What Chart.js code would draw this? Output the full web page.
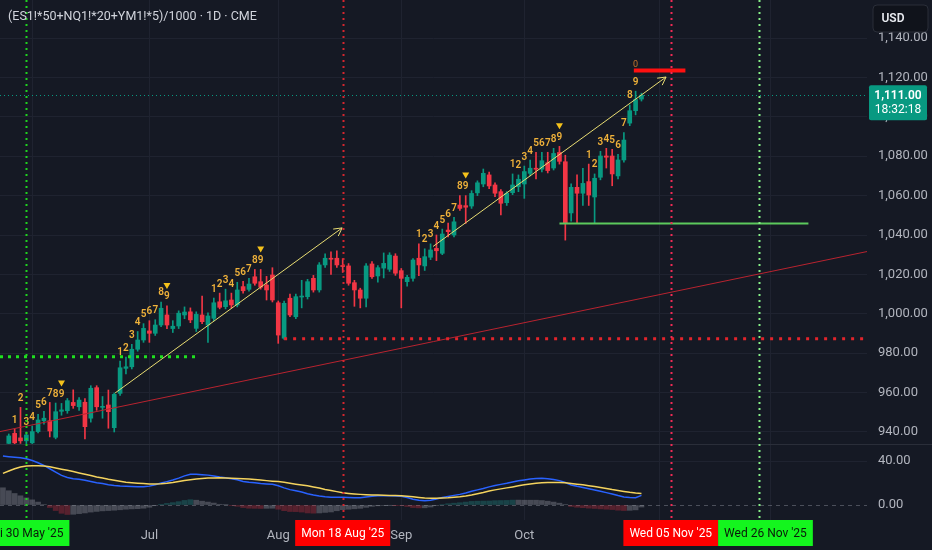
<!DOCTYPE html>
<html>
<head>
<meta charset="utf-8">
<title>ES/NQ/YM composite 1D</title>
<script src="https://cdn.jsdelivr.net/npm/chart.js@4.4.1/dist/chart.umd.min.js"></script>
<style>
  html, body { margin: 0; padding: 0; background: #151924; }
  #wrap { width: 932px; height: 550px; position: relative; }
</style>
</head>
<body>
<div id="wrap"><canvas id="chart"></canvas></div>
<script>
// ---- calendar (CME trading days, US holidays skipped) ----
const holidays = ['2025-05-26', '2025-06-19', '2025-07-04', '2025-09-01', '2025-11-27', '2025-12-25'];
const monthNames = ['Jan', 'Feb', 'Mar', 'Apr', 'May', 'Jun', 'Jul', 'Aug', 'Sep', 'Oct', 'Nov', 'Dec'];

function buildDays(first, count) {
  const out = [];
  const d = new Date(first + 'T00:00:00Z');
  while (out.length < count) {
    const iso = d.toISOString().slice(0, 10);
    const wd = d.getUTCDay();
    if (wd !== 0 && wd !== 6 && !holidays.includes(iso)) out.push(iso);
    d.setUTCDate(d.getUTCDate() + 1);
  }
  return out;
}
const days = buildDays('2025-05-23', 148);

// ---- daily candles, 23 May .. 29 Oct 2025 ----
const opens = [
  null, 934.2, 939.3, 937.0, 935.5, 934.5, 940.2, 945.7, 945.7, 937.3,
  950.5, 950.8, 955.0, 952.8, 955.1, 947.0, 962.5, 952.5, 953.7, 942.2,
  959.6, 972.3, 973.1, 982.0, 986.7, 991.3, 990.1, 994.3, 999.4, 992.5,
  993.8, 999.4, 1001.0, 992.6, 999.4, 994.3, 997.7, 1006.1, 1003.6, 1007.0,
  1004.5, 1013.8, 1012.4, 1018.8, 1016.3, 1014.6, 1019.7, 1005.6, 987.6, 1007.9,
  998.5, 1008.5, 1008.7, 1018.0, 1012.1, 1024.8, 1028.2, 1028.2, 1024.5, 1024.3,
  1015.8, 1012.1, 1007.9, 1025.3, 1019.2, 1023.2, 1022.6, 1029.3, 1021.9, 1016.3,
  1018.0, 1028.2, 1024.3, 1028.7, 1033.2, 1030.7, 1042.5, 1040.0, 1055.2, 1054.9,
  1054.7, 1061.4, 1065.9, 1070.5, 1065.4, 1062.0, 1056.4, 1061.5, 1064.5, 1065.9,
  1071.3, 1073.9, 1073.4, 1076.7, 1074.0, 1081.9, 1077.2, 1051.2, 1064.2, 1061.2,
  1067.1, 1059.3, 1069.3, 1080.1, 1080.1, 1070.0, 1078.1, 1096.8, 1103.1, 1109.0
];
const highs = [
  null, 939.0, 941.5, 952.5, 940.0, 943.0, 949.0, 950.5, 955.0, 954.7,
  954.5, 957.0, 961.4, 957.5, 957.0, 963.5, 963.5, 958.0, 961.3, 959.8,
  976.0, 978.0, 984.5, 991.0, 995.0, 996.5, 997.0, 1006.0, 1004.0, 996.5,
  1001.5, 1003.5, 1003.0, 1001.0, 1009.0, 1000.5, 1008.0, 1010.5, 1012.5, 1010.5,
  1016.0, 1016.5, 1018.0, 1022.5, 1022.5, 1019.0, 1023.4, 1006.5, 1006.5, 1010.0,
  1010.0, 1017.0, 1017.5, 1019.5, 1026.0, 1030.5, 1031.5, 1032.0, 1028.0, 1025.5,
  1017.0, 1013.0, 1025.5, 1026.5, 1024.5, 1030.9, 1031.0, 1030.5, 1023.0, 1019.5,
  1028.0, 1035.5, 1033.0, 1035.5, 1040.0, 1043.0, 1046.0, 1049.0, 1060.0, 1060.0,
  1062.5, 1067.5, 1073.5, 1072.0, 1066.5, 1063.0, 1062.0, 1071.0, 1070.5, 1075.0,
  1078.0, 1082.0, 1082.0, 1082.0, 1084.0, 1085.0, 1080.5, 1066.0, 1070.5, 1073.9,
  1076.0, 1071.0, 1082.5, 1084.0, 1083.5, 1081.0, 1092.0, 1106.0, 1113.0, 1112.0
];
const lows = [
  null, 934.1, 934.0, 934.2, 934.1, 934.1, 939.5, 944.0, 937.5, 936.5,
  948.5, 949.5, 952.0, 951.0, 936.5, 945.0, 951.0, 947.0, 941.9, 940.0,
  958.5, 969.5, 972.0, 981.0, 985.5, 985.5, 989.0, 993.5, 992.5, 990.5,
  992.5, 997.5, 995.5, 991.0, 995.0, 985.5, 996.5, 1002.5, 1002.5, 1003.0,
  1003.5, 1010.5, 1011.5, 1014.5, 1012.5, 1007.0, 1006.0, 985.0, 987.0, 998.5,
  997.5, 1003.0, 1007.5, 1011.0, 1011.0, 1023.5, 1020.0, 1023.5, 1021.0, 1014.5,
  1003.8, 1003.0, 1003.5, 1018.0, 1016.0, 1018.2, 1021.5, 1019.5, 1003.0, 1014.0,
  1016.5, 1019.3, 1022.0, 1027.5, 1027.0, 1030.0, 1039.0, 1039.0, 1052.5, 1045.9,
  1053.5, 1060.0, 1064.5, 1063.5, 1059.5, 1050.2, 1055.0, 1060.5, 1062.0, 1058.6,
  1070.0, 1068.5, 1072.0, 1071.5, 1073.0, 1076.0, 1037.4, 1047.0, 1045.9, 1055.0,
  1055.0, 1046.2, 1068.0, 1074.0, 1065.0, 1068.5, 1077.0, 1095.5, 1101.0, 1108.0
];
const closes = [
  null, 938.0, 934.5, 935.5, 938.5, 940.2, 946.1, 947.0, 940.5, 950.3,
  951.2, 955.9, 953.4, 956.2, 942.7, 962.2, 952.8, 953.0, 950.3, 959.1,
  972.6, 973.1, 982.0, 986.7, 992.6, 990.1, 994.3, 1002.8, 994.3, 993.7,
  1000.3, 1000.9, 996.9, 999.7, 996.0, 998.9, 1005.6, 1003.3, 1006.6, 1004.5,
  1012.1, 1011.7, 1015.1, 1015.5, 1013.5, 1012.1, 1007.0, 989.2, 1005.3, 999.4,
  1008.7, 1008.9, 1016.3, 1012.1, 1024.8, 1028.2, 1027.7, 1024.8, 1024.0, 1015.5,
  1012.1, 1007.9, 1024.3, 1018.8, 1023.4, 1025.6, 1029.8, 1020.6, 1018.0, 1018.5,
  1027.3, 1024.8, 1029.0, 1032.4, 1032.0, 1040.5, 1041.7, 1046.7, 1053.5, 1054.1,
  1061.1, 1066.5, 1071.3, 1064.9, 1061.2, 1056.1, 1061.2, 1065.4, 1068.3, 1072.2,
  1073.9, 1073.4, 1077.7, 1072.7, 1081.4, 1077.4, 1046.0, 1064.2, 1061.2, 1066.2,
  1060.3, 1068.8, 1080.1, 1079.5, 1071.0, 1078.1, 1088.2, 1103.1, 1108.8, 1111.0
];

// ---- MACD pane ----
const macdLine = [
  44.5, 44, 43.5, 43, 42, 40.5, 38.5, 36, 33, 30,
  27, 25, 24, 23.5, 22.5, 21.5, 20.3, 19.5, 18.5, 17.8,
  17.3, 17, 16.8, 16.6, 16.6, 17.2, 18.5, 20, 21.3, 22.7,
  24.5, 26.5, 27.9, 28, 27.6, 27.2, 26.5, 25.5, 24.9, 24,
  23, 21.5, 20.7, 20.2, 19.6, 19.2, 18.8, 17.5, 15.6, 14,
  13, 11.8, 10.3, 9.1, 8.2, 7.5, 7, 7, 7, 6.8,
  6.7, 6.7, 7.3, 8, 8.4, 8.5, 8.5, 8.3, 8, 6.8,
  5.2, 4.3, 3.9, 4.3, 5.5, 6.8, 7.8, 8.8, 9.7, 11,
  12.5, 13.8, 15, 16.5, 17.8, 18.8, 19.8, 21, 22, 22.8,
  23.6, 24.2, 24.3, 24, 23.3, 22.2, 20.5, 18.3, 17, 16,
  14.8, 13.7, 12.5, 11.3, 10, 8.6, 7.4, 6.8, 6.6, 8.8
];
const signalLine = [
  28.8, 31, 33, 34.6, 35.5, 35.8, 35.8, 35.6, 34.8, 33.7,
  32.6, 31.6, 30.4, 29.2, 28, 26.8, 25.5, 24.5, 23.4, 22.5,
  21.6, 20.8, 20.3, 19.9, 19.5, 19.2, 19.1, 19.3, 19.8, 20.5,
  21.4, 22.3, 23, 23.6, 24.1, 24.5, 24.7, 24.8, 24.6, 24.4,
  24.1, 23.8, 23.6, 23.2, 22.7, 22.2, 21.7, 21.3, 20.7, 19.9,
  19, 18.2, 17.5, 16.5, 15.4, 14.2, 13.3, 12.2, 11.2, 10.6,
  10.1, 9.7, 9.4, 9.2, 9.1, 8.9, 8.7, 8.6, 8.5, 8.1,
  7.5, 6.9, 6.4, 6.1, 6.1, 6.3, 6.6, 7.1, 7.6, 8.3,
  9.2, 10.3, 11.4, 12.8, 13.8, 14.7, 15.6, 16.5, 17.5, 18.4,
  19.2, 19.8, 20.2, 20.5, 20.6, 20.5, 20.2, 19.6, 19, 18.4,
  17.6, 16.8, 16, 15.1, 14.1, 13.3, 12.4, 11.6, 11, 10.6
];
const histogram = [
  15.7, 13, 10.5, 8.4, 6.5, 4.7, 2.7, 0.4, -2.2, -5,
  -7.5, -8.6, -8.4, -7.8, -7.2, -6.4, -5.8, -5.3, -5, -4.7,
  -4.3, -3.8, -3.5, -3.3, -2.9, -2, -0.6, 0.7, 1.5, 2.2,
  3.1, 4.2, 4.9, 4.4, 3.5, 2.7, 1.8, 0.7, 0.3, -0.4,
  -1.1, -2.3, -2.9, -3, -3.1, -3, -2.9, -3.8, -5.1, -5.9,
  -6, -6.4, -7.2, -7.4, -7.2, -6.7, -6.3, -5.2, -4.2, -3.8,
  -3.4, -3, -2.1, -1.2, -0.7, -0.4, -0.2, -0.3, -0.5, -1.3,
  -2.3, -2.6, -2.5, -1.8, -0.6, 0.5, 1.2, 1.7, 2.1, 2.7,
  3.3, 3.5, 3.6, 3.7, 4, 4.1, 4.2, 4.5, 4.5, 4.4,
  4.4, 4.4, 4.1, 3.5, 2.7, 1.7, 0.3, -1.3, -2, -2.4,
  -2.8, -3.1, -3.5, -3.8, -4.1, -4.7, -5, -4.8, -4.4, -1.8
];

// ---- annotations ----
const markedDates = ['2025-05-30', '2025-08-18', '2025-11-05', '2025-11-26'];
const markedText = ["Fri 30 May '25", "Mon 18 Aug '25", "Wed 05 Nov '25", "Wed 26 Nov '25"];
const markedKind = ['green', 'red', 'red', 'green'];
const tdSetupStart = ['2025-05-28', '2025-06-24', '2025-07-17', '2025-09-05', '2025-09-29', '2025-10-16'];
const lastPrice = 1111.0;
const countdown = '18:32:18';
const greenZone = 978.2;
const redZone = 987.3;
const supportLevel = 1045.9;
const targetLevel = 1123.5;

const UP = '#089981';
const DOWN = '#f23645';
const BG = '#151924';
const GRID = '#1f2330';
const TEXT = '#b2b5be';
const FONT = 'Roboto, "Noto Sans", sans-serif';

const candleColors = closes.map((c, k) => (c == null || c >= opens[k]) ? UP : DOWN);
const histColors = histogram.map((v, k) => {
  const prev = k > 0 ? histogram[k - 1] : v;
  if (v >= 0) return v > prev ? 'rgba(38,166,154,0.30)' : 'rgba(178,181,190,0.32)';
  return v < prev ? 'rgba(242,54,69,0.30)' : 'rgba(178,181,190,0.32)';
});

function fmt2(v) {
  return v.toLocaleString('en-US', { minimumFractionDigits: 2, maximumFractionDigits: 2 });
}

function monthLabel(i) {
  if (i === 0) return null;
  const d = days[i], prev = days[i - 1];
  if (d.slice(5, 7) !== prev.slice(5, 7)) return monthNames[+d.slice(5, 7) - 1];
  return null;
}

function noPad(s) { s.paddingTop = 0; s.paddingBottom = 0; s.paddingLeft = 0; s.paddingRight = 0; }

function dotted(ctx, x1, y1, x2, y2, color, width, dash) {
  ctx.save();
  ctx.strokeStyle = color;
  ctx.lineWidth = width;
  ctx.setLineDash(dash || []);
  ctx.beginPath();
  ctx.moveTo(x1, y1);
  ctx.lineTo(x2, y2);
  ctx.stroke();
  ctx.restore();
}

function arrow(ctx, x1, y1, x2, y2, color) {
  dotted(ctx, x1, y1, x2, y2, color, 1);
  const ang = Math.atan2(y2 - y1, x2 - x1);
  const len = 9;
  ctx.save();
  ctx.strokeStyle = color;
  ctx.lineWidth = 1;
  ctx.beginPath();
  ctx.moveTo(x2 - len * Math.cos(ang - 0.5), y2 - len * Math.sin(ang - 0.5));
  ctx.lineTo(x2, y2);
  ctx.lineTo(x2 - len * Math.cos(ang + 0.5), y2 - len * Math.sin(ang + 0.5));
  ctx.stroke();
  ctx.restore();
}

const overlay = {
  id: 'overlay',
  beforeDraw(chart) {
    const ctx = chart.ctx;
    ctx.save();
    ctx.fillStyle = BG;
    ctx.fillRect(0, 0, chart.width, chart.height);
    ctx.restore();
  },
  beforeDatasetsDraw(chart) {
    const { ctx, chartArea: a, scales: { y, m } } = chart;
    // pane separator and MACD zero line
    dotted(ctx, 0, y.bottom + 0.5, chart.width, y.bottom + 0.5, '#2a2e39', 1);
    const z = Math.round(m.getPixelForValue(0)) + 0.5;
    dotted(ctx, a.left, z, a.right, z, 'rgba(120,123,134,0.55)', 1, [4, 4]);
  },
  afterDatasetsDraw(chart) {
    const { ctx, chartArea: a, scales: { x, y } } = chart;
    const X = (date, off = 0) => x.getPixelForValue(days.indexOf(date) + off);
    const Y = p => y.getPixelForValue(p);

    // current price line
    const yp = Math.round(Y(lastPrice)) + 0.5;
    dotted(ctx, a.left, yp, a.right, yp, UP, 1, [1, 3]);

    // trend line and arrows
    dotted(ctx, a.left, Y(940.2), a.right, Y(1031.6), '#b8232f', 1);
    arrow(ctx, X('2025-06-23', 0.15), Y(959.8), X('2025-08-18', -0.1), Y(1043.6), '#e8dc72');
    arrow(ctx, X('2025-09-09', 0.43), Y(1034.2), X('2025-11-04', 0.2), Y(1120.2), '#e8dc72');

    // horizontal levels
    dotted(ctx, a.left, Y(greenZone), X('2025-07-14', -0.2), Y(greenZone), '#1fe01f', 3, [3, 5]);
    dotted(ctx, X('2025-08-04'), Y(redZone), a.right, Y(redZone), '#e3242b', 3, [3, 6]);
    dotted(ctx, X('2025-10-09'), Y(supportLevel), X('2025-12-09', 0.5), Y(supportLevel), '#5cc95c', 2);
    dotted(ctx, X('2025-10-28', -0.3), Y(targetLevel), X('2025-11-07', 0.5), Y(targetLevel), '#ff1010', 4);

    // TD sequential counts
    ctx.save();
    ctx.font = '600 10px ' + FONT;
    ctx.textAlign = 'center';
    ctx.textBaseline = 'middle';
    tdSetupStart.forEach((start, s) => {
      const i0 = days.indexOf(start);
      for (let k = 0; k < 9; k++) {
        const i = i0 + k;
        const px = x.getPixelForValue(i);
        const py = Y(highs[i]) - 9;
        ctx.fillStyle = '#f0b23a';
        ctx.fillText(String(k + 1), px, py);
        if (k === 8 && s < tdSetupStart.length - 1) {
          ctx.fillStyle = '#f5c21b';
          ctx.beginPath();
          ctx.moveTo(px - 3.5, py - 14);
          ctx.lineTo(px + 3.5, py - 14);
          ctx.lineTo(px, py - 8);
          ctx.closePath();
          ctx.fill();
        } else if (k === 8) {
          ctx.fillStyle = '#c9772b';
          ctx.font = '9px ' + FONT;
          ctx.fillText('0', px, py - 17);
        }
      }
    });
    ctx.restore();

    // vertical date markers
    const vColors = ['#1fd41f', '#d4262e', '#ef2a55', '#86f086'];
    markedDates.forEach((d, k) => {
      const vx = Math.round(X(d)) + 0.5;
      dotted(ctx, vx, a.top, vx, a.bottom, vColors[k], 2, [2, 4]);
    });
  },
  afterDraw(chart) {
    const { ctx, chartArea: a, scales: { x, y } } = chart;
    ctx.save();

    // title
    ctx.font = '12.5px ' + FONT;
    ctx.fillStyle = '#d1d4dc';
    ctx.textBaseline = 'middle';
    ctx.textAlign = 'left';
    ctx.fillText('(ES1!*50+NQ1!*20+YM1!*5)/1000 · 1D · CME', 8, 17);

    // date boxes on the time axis
    ctx.font = '12px ' + FONT;
    ctx.textAlign = 'center';
    let prevRight = -Infinity;
    markedDates.forEach((d, k) => {
      const cx = x.getPixelForValue(days.indexOf(d));
      const w = ctx.measureText(markedText[k]).width + 12;
      let left = cx - w / 2;
      if (left < prevRight) left = prevRight;
      ctx.fillStyle = markedKind[k] === 'green' ? '#14f51e' : '#ff0000';
      ctx.fillRect(left, a.bottom, w, 26);
      ctx.fillStyle = markedKind[k] === 'green' ? '#0b1a0b' : '#ffffff';
      ctx.fillText(markedText[k], left + w / 2, a.bottom + 14);
      prevRight = left + w;
    });

    // last price box
    const yp = y.getPixelForValue(lastPrice);
    ctx.fillStyle = UP;
    ctx.beginPath();
    ctx.roundRect(a.right + 2, yp - 10, 58, 35, 2);
    ctx.fill();
    ctx.fillStyle = '#ffffff';
    ctx.font = '600 12px ' + FONT;
    ctx.fillText(fmt2(lastPrice), a.right + 31, yp + 0.5);
    ctx.font = '12px ' + FONT;
    ctx.fillText(countdown, a.right + 31, yp + 14.5);

    // currency button
    ctx.fillStyle = '#10131b';
    ctx.strokeStyle = '#2a2e39';
    ctx.beginPath();
    ctx.roundRect(a.right + 6, 5, 55, 27, 4);
    ctx.fill();
    ctx.stroke();
    ctx.fillStyle = '#e8eaf0';
    ctx.font = '600 12px ' + FONT;
    ctx.fillText('USD', a.right + 26, 18.5);
    ctx.restore();
  }
};

Chart.defaults.font.family = FONT;
Chart.defaults.font.size = 12;
Chart.defaults.color = TEXT;

const ctx = document.getElementById('chart').getContext('2d');
new Chart(ctx, {
  type: 'bar',
  data: {
    labels: days,
    datasets: [
      {
        label: 'wick',
        data: lows.map((l, k) => l == null ? null : [l, highs[k]]),
        backgroundColor: candleColors,
        barThickness: 1,
        grouped: false,
        yAxisID: 'y',
        order: 4
      },
      {
        label: 'body',
        data: opens.map((o, k) => o == null ? null : [o, closes[k]]),
        backgroundColor: candleColors,
        barThickness: 4,
        minBarLength: 1,
        grouped: false,
        yAxisID: 'y',
        order: 3
      },
      {
        label: 'Histogram',
        data: histogram,
        backgroundColor: histColors,
        barThickness: 5,
        grouped: false,
        yAxisID: 'm',
        order: 5
      },
      {
        type: 'line',
        label: 'MACD',
        data: macdLine,
        borderColor: '#2962ff',
        borderWidth: 1.5,
        pointRadius: 0,
        yAxisID: 'm',
        order: 2
      },
      {
        type: 'line',
        label: 'Signal',
        data: signalLine,
        borderColor: '#f4d35e',
        borderWidth: 1.5,
        pointRadius: 0,
        yAxisID: 'm',
        order: 1
      }
    ]
  },
  options: {
    responsive: true,
    maintainAspectRatio: false,
    animation: false,
    events: [],
    layout: { padding: 0 },
    plugins: { legend: { display: false }, tooltip: { enabled: false } },
    scales: {
      x: {
        type: 'category',
        offset: true,
        grid: { color: GRID, offset: false, drawTicks: false },
        border: { display: false },
        ticks: {
          autoSkip: false, maxRotation: 0, padding: 8, color: TEXT,
          font: { size: 13 },
          callback: (v, i) => monthLabel(i)
        },
        afterFit: s => { s.height = 30; noPad(s); }
      },
      y: {
        position: 'right',
        stack: 'panes',
        stackWeight: 444,
        min: 933.9,
        max: 1159.3,
        grid: { color: GRID, drawTicks: false },
        border: { display: false },
        ticks: { stepSize: 20, includeBounds: false, padding: 11, color: TEXT, font: { size: 13 }, callback: v => fmt2(v) },
        afterFit: s => { s.width = 65; noPad(s); }
      },
      m: {
        position: 'right',
        stack: 'panes',
        stackWeight: 76,
        min: -13.6,
        max: 55.5,
        grid: { color: c => (c.tick && c.tick.value === 0) ? 'rgba(0,0,0,0)' : GRID, drawTicks: false },
        border: { display: false },
        ticks: { stepSize: 40, includeBounds: false, padding: 11, color: TEXT, font: { size: 13 }, callback: v => v.toFixed(2) },
        afterFit: s => { s.width = 65; noPad(s); }
      }
    }
  },
  plugins: [overlay]
});
</script>
</body>
</html>
